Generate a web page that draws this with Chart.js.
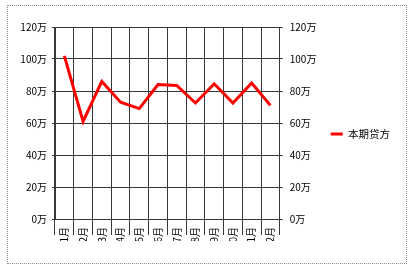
<!DOCTYPE html>
<html>
<head>
<meta charset="utf-8">
<script src="https://cdn.jsdelivr.net/npm/chart.js@4/dist/chart.umd.min.js"></script>
<style>
  body { margin: 0; background: #fff; }
  #wrap { position: relative; width: 419px; height: 270px; }
  #frame {
    position: absolute; left: 7px; top: 5px; width: 398px; height: 257px;
    border: 1px dotted #8a8a8a; pointer-events: none;
  }
</style>
</head>
<body>
<div id="wrap">
  <canvas id="chart" width="419" height="270"></canvas>
  <div id="frame"></div>
</div>
<script>
// ── DATA ──────────────────────────────────────────────
const months     = ['1月','2月','3月','4月','5月','6月','7月','8月','9月','10月','11月','12月'];
const creditData = [102, 61, 86, 73, 69, 84, 83.5, 72.5, 84.5, 72.5, 85, 71];   // 单位：万
const seriesName = '本期贷方';
const yMin = 0, yMax = 120, yStep = 20;

const FONT = { family: '"Noto Sans CJK SC", "DejaVu Sans", sans-serif', size: 10 };
const GRID = '#383838';

function wan(v) { return v + '万'; }

const ctx = document.getElementById('chart').getContext('2d');

new Chart(ctx, {
  type: 'line',
  data: {
    labels: months,
    datasets: [{
      label: seriesName,
      data: creditData,
      borderColor: '#ff0000',
      backgroundColor: '#ff0000',
      borderWidth: 3,
      tension: 0,
      pointRadius: 0,
      pointStyle: 'line',
      yAxisID: 'y'
    }]
  },
  options: {
    responsive: false,
    animation: false,
    layout: { padding: { top: 27, right: 19, bottom: 29, left: 0 } },
    plugins: {
      tooltip: { enabled: false },
      legend: {
        position: 'right',
        maxWidth: 120,      // default cap (1/6 of width) would clip the label
        labels: {
          usePointStyle: true,
          pointStyle: 'line',
          pointStyleWidth: 12,
          color: '#000',
          font: { family: FONT.family, size: 10.5 }
        }
      }
    },
    scales: {
      x: {
        offset: true,
        grid: { offset: true, color: GRID, tickColor: GRID, tickLength: 16 },
        border: { color: GRID },
        ticks: { color: '#000', font: FONT, minRotation: 90, maxRotation: 90,
                 padding: -8, autoSkip: false },
        afterFit: s => { s.height = 22; }
      },
      y: {
        position: 'left',
        min: yMin, max: yMax,
        grid: { color: GRID, tickColor: GRID, tickLength: 3 },
        border: { color: GRID },
        ticks: { stepSize: yStep, color: '#000', font: FONT, padding: 5, callback: wan },
        afterFit: s => { s.width = 55; }
      },
      y2: {
        position: 'right',
        min: yMin, max: yMax,
        grid: { drawOnChartArea: false, color: GRID, tickColor: GRID, tickLength: 3 },
        border: { color: GRID },
        ticks: { stepSize: yStep, color: '#000', font: FONT, padding: 7, callback: wan },
        afterFit: s => { s.width = 41; }
      }
    }
  }
});
</script>
</body>
</html>
